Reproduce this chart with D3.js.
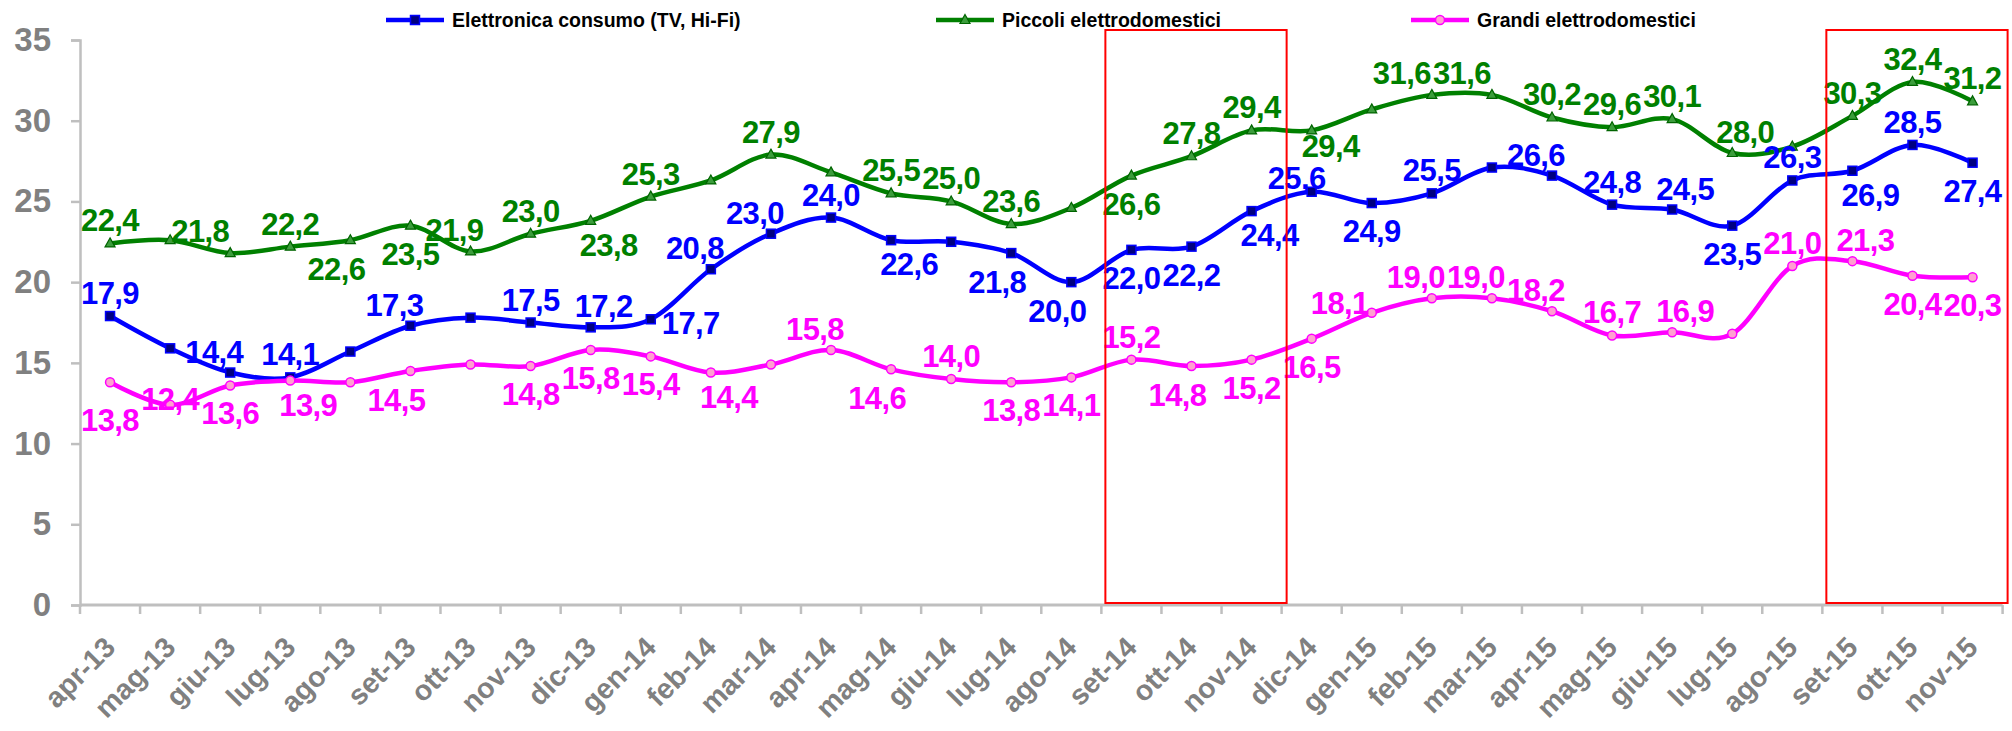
<!DOCTYPE html>
<html><head><meta charset="utf-8">
<script src="https://cdn.jsdelivr.net/npm/d3@7"></script>
<style>
html,body{margin:0;padding:0;background:#fff;}
svg{display:block;}
</style></head>
<body>
<svg id="chart" width="2012" height="731"></svg>
<script>
// ---------------- DATA ----------------
const categories = ["apr-13","mag-13","giu-13","lug-13","ago-13","set-13","ott-13","nov-13","dic-13",
  "gen-14","feb-14","mar-14","apr-14","mag-14","giu-14","lug-14","ago-14","set-14","ott-14","nov-14","dic-14",
  "gen-15","feb-15","mar-15","apr-15","mag-15","giu-15","lug-15","ago-15","set-15","ott-15","nov-15"];

const seriesNames = ["Elettronica consumo (TV, Hi-Fi)", "Piccoli elettrodomestici", "Grandi elettrodomestici"];

const elettronica = [17.9,15.9,14.4,14.1,15.7,17.3,17.8,17.5,17.2,17.7,20.8,23.0,24.0,22.6,22.5,21.8,20.0,
  22.0,22.2,24.4,25.6,24.9,25.5,27.1,26.6,24.8,24.5,23.5,26.3,26.9,28.5,27.4];
const piccoli = [22.4,22.6,21.8,22.2,22.6,23.5,21.9,23.0,23.8,25.3,26.3,27.9,26.8,25.5,25.0,23.6,24.6,
  26.6,27.8,29.4,29.4,30.7,31.6,31.6,30.2,29.6,30.1,28.0,28.4,30.3,32.4,31.2];
const grandi = [13.8,12.4,13.6,13.9,13.8,14.5,14.9,14.8,15.8,15.4,14.4,14.9,15.8,14.6,14.0,13.8,14.1,
  15.2,14.8,15.2,16.5,18.1,19.0,19.0,18.2,16.7,16.9,16.8,21.0,21.3,20.4,20.3];

// which points carry a visible data label, and on which side ("" = no label)
const elettronicaLabelSide = ["T","","TL","T","","TL","","T","TR","R","TL","TL","T","BR","","BL","BL",
  "B","B","BR","TLn","B","T","","TL","T","TR","B","T","BR","T","B"];
const piccoliLabelSide = ["T","","LT","T","BL","B","TL","T","BR","T","","T","","T","T","T","",
  "B","T","T","BRn","","LT","LT","T","T","T","TR","","T","T","T"];
const grandiLabelSide = ["BB","C","B","BR","","BL","","B","B","B","BR","","TL","BL","T","B","B",
  "T","BL","B","B","L","TL","TL","TL","T","TR","","T","TR","B","B"];

const yTicks = [0,5,10,15,20,25,30,35];
const highlights = [["set-14","nov-14"],["set-15","nov-15"]];

// ---------------- LAYOUT / STYLE ----------------
const W = 2012, H = 731;
const plot = {left: 80, right: 2002.6, top: 40, bottom: 605};
const FONT = "'Liberation Sans', Arial, Helvetica, sans-serif";
const labelOffsets = {
  T:[0,-12], TL:[-16,-10], TR:[13,-10], B:[0,39], BB:[0,49], BL:[-14,40], BR:[18,35],
  R:[40,15], L:[-32,1], LT:[-30,-11], C:[0,5], TLn:[-15,-3], BRn:[19,27]
};

const series = [
  {name: seriesNames[0], values: elettronica, sides: elettronicaLabelSide, color:"#0000FF", marker:"square"},
  {name: seriesNames[1], values: piccoli, sides: piccoliLabelSide, color:"#008000", marker:"triangle"},
  {name: seriesNames[2], values: grandi, sides: grandiLabelSide, color:"#FF00FF", marker:"circle"}
];
const legendX = [386, 936, 1411];

const svg = d3.select("#chart");
svg.append("rect").attr("width", W).attr("height", H).attr("fill", "#fff");

const x = d3.scaleBand().domain(categories).range([plot.left, plot.right]).padding(0);
const y = d3.scaleLinear().domain([0, 35]).range([plot.bottom, plot.top]);
const cx = c => x(c) + x.bandwidth() / 2;

const axisColor = "#BFBFBF";

// Y axis
const yAxis = d3.axisLeft(y).tickValues(yTicks).tickSize(9).tickPadding(20).tickFormat(d3.format("d"));
const gy = svg.append("g").attr("transform", `translate(${plot.left},0)`).call(yAxis);
gy.select(".domain").attr("stroke", axisColor).attr("stroke-width", 2.5);
gy.selectAll(".tick line").attr("stroke", axisColor).attr("stroke-width", 2.5);
gy.selectAll(".tick text").attr("fill", "#808080").attr("font-family", FONT)
  .attr("font-weight", "bold").attr("font-size", 33);

// X axis line and ticks at band boundaries
svg.append("line").attr("x1", plot.left).attr("x2", plot.right)
  .attr("y1", plot.bottom).attr("y2", plot.bottom)
  .attr("stroke", axisColor).attr("stroke-width", 3);
const boundaries = categories.map(c => x(c)).concat([x(categories[categories.length-1]) + x.bandwidth()]);
svg.append("g").selectAll("line").data(boundaries).join("line")
  .attr("x1", d => d).attr("x2", d => d)
  .attr("y1", plot.bottom).attr("y2", plot.bottom + 9)
  .attr("stroke", axisColor).attr("stroke-width", 2.5);
svg.append("g").selectAll("text").data(categories).join("text")
  .attr("transform", c => `translate(${cx(c) + 7},${plot.bottom + 44}) rotate(-45)`)
  .attr("text-anchor", "end")
  .attr("fill", "#808080").attr("font-family", FONT).attr("font-weight", "bold")
  .attr("font-size", 28.5)
  .text(c => c);

// Lines
const line = d3.line().x((d, i) => cx(categories[i])).y(d => y(d)).curve(d3.curveCardinal.tension(0));

function drawMarker(g, type, color, px, py) {
  if (type === "square") {
    g.append("rect").attr("x", px - 4.5).attr("y", py - 4.5).attr("width", 9).attr("height", 9)
      .attr("fill", "#000080").attr("stroke", color).attr("stroke-width", 1.5);
  } else if (type === "triangle") {
    g.append("path").attr("d", `M${px},${py-5.5}L${px+5},${py+3.5}L${px-5},${py+3.5}Z`)
      .attr("fill", "#3C9D3C").attr("stroke", "#006400").attr("stroke-width", 1.2);
  } else {
    g.append("circle").attr("cx", px).attr("cy", py).attr("r", 4.5)
      .attr("fill", "#FFA0D0").attr("stroke", color).attr("stroke-width", 1.5);
  }
}

const gLines = svg.append("g");
series.forEach(s => {
  gLines.append("path").datum(s.values).attr("d", line)
    .attr("fill", "none").attr("stroke", s.color).attr("stroke-width", 4.5)
    .attr("stroke-linejoin", "round").attr("stroke-linecap", "round");
  const gm = gLines.append("g");
  s.values.forEach((v, i) => drawMarker(gm, s.marker, s.color, cx(categories[i]), y(v)));
});

// Data labels
const fmt = v => d3.format(".1f")(v).replace(".", ",");
const gLabels = svg.append("g");
series.forEach(s => {
  s.values.forEach((v, i) => {
    const side = s.sides[i];
    if (!side) return;
    const off = labelOffsets[side];
    gLabels.append("text")
      .attr("x", cx(categories[i]) + off[0]).attr("y", y(v) + off[1])
      .attr("text-anchor", "middle").attr("fill", s.color)
      .attr("font-family", FONT).attr("font-weight", "bold").attr("font-size", 31)
      .attr("letter-spacing", -0.6)
      .text(fmt(v));
  });
});

// Highlight boxes
highlights.forEach(([a, b]) => {
  const x0 = x(a) + 4, x1 = x(b) + x.bandwidth() + 5;
  svg.append("rect").attr("x", x0).attr("y", 30).attr("width", x1 - x0).attr("height", plot.bottom - 2 - 30)
    .attr("fill", "none").attr("stroke", "#FF0000").attr("stroke-width", 2);
});

// Legend
const gLeg = svg.append("g");
series.forEach((s, k) => {
  const lx = legendX[k], ly = 20;
  gLeg.append("line").attr("x1", lx).attr("x2", lx + 58).attr("y1", ly).attr("y2", ly)
    .attr("stroke", s.color).attr("stroke-width", 4.5);
  drawMarker(gLeg, s.marker, s.color, lx + 29, ly);
  gLeg.append("text").attr("x", lx + 66).attr("y", 27)
    .attr("font-family", FONT).attr("font-weight", "bold").attr("font-size", 19.5).attr("fill", "#000")
    .text(s.name);
});
</script>
</body></html>
